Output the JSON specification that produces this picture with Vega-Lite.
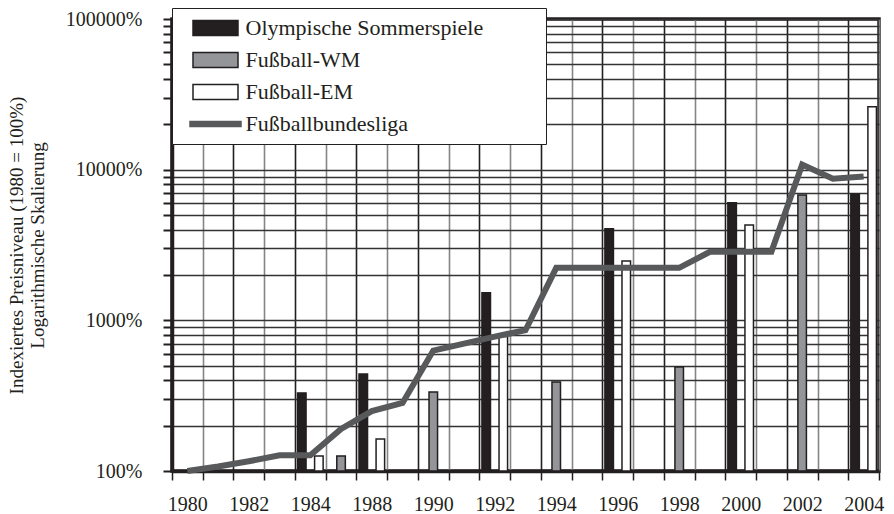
{
  "$schema": "https://vega.github.io/schema/vega-lite/v6.json",
  "width": 707,
  "height": 452,
  "autosize": "none",
  "padding": {"left": 172, "top": 19, "right": 15, "bottom": 43},
  "background": "white",
  "config": {
    "view": {"stroke": "#231f20", "strokeWidth": 3.5},
    "font": "Liberation Serif"
  },
  "data": {
    "values": [
      {"Jahr": "1980", "Serie": "Fußballbundesliga", "Wert": 100},
      {"Jahr": "1981", "Serie": "Fußballbundesliga", "Wert": 107},
      {"Jahr": "1982", "Serie": "Fußballbundesliga", "Wert": 116},
      {"Jahr": "1983", "Serie": "Fußballbundesliga", "Wert": 127},
      {"Jahr": "1984", "Serie": "Fußballbundesliga", "Wert": 127},
      {"Jahr": "1986", "Serie": "Fußballbundesliga", "Wert": 190},
      {"Jahr": "1988", "Serie": "Fußballbundesliga", "Wert": 250},
      {"Jahr": "1989", "Serie": "Fußballbundesliga", "Wert": 283},
      {"Jahr": "1990", "Serie": "Fußballbundesliga", "Wert": 630},
      {"Jahr": "1991", "Serie": "Fußballbundesliga", "Wert": 700},
      {"Jahr": "1992", "Serie": "Fußballbundesliga", "Wert": 780},
      {"Jahr": "1993", "Serie": "Fußballbundesliga", "Wert": 860},
      {"Jahr": "1994", "Serie": "Fußballbundesliga", "Wert": 2230},
      {"Jahr": "1995", "Serie": "Fußballbundesliga", "Wert": 2230},
      {"Jahr": "1996", "Serie": "Fußballbundesliga", "Wert": 2230},
      {"Jahr": "1997", "Serie": "Fußballbundesliga", "Wert": 2230},
      {"Jahr": "1998", "Serie": "Fußballbundesliga", "Wert": 2230},
      {"Jahr": "1999", "Serie": "Fußballbundesliga", "Wert": 2850},
      {"Jahr": "2000", "Serie": "Fußballbundesliga", "Wert": 2850},
      {"Jahr": "2001", "Serie": "Fußballbundesliga", "Wert": 2850},
      {"Jahr": "2002", "Serie": "Fußballbundesliga", "Wert": 10800},
      {"Jahr": "2003", "Serie": "Fußballbundesliga", "Wert": 8700},
      {"Jahr": "2004", "Serie": "Fußballbundesliga", "Wert": 9000},
      {"Jahr": "1984", "Serie": "Olympische Sommerspiele", "Wert": 330},
      {"Jahr": "1988", "Serie": "Olympische Sommerspiele", "Wert": 440},
      {"Jahr": "1992", "Serie": "Olympische Sommerspiele", "Wert": 1525},
      {"Jahr": "1996", "Serie": "Olympische Sommerspiele", "Wert": 4050},
      {"Jahr": "2000", "Serie": "Olympische Sommerspiele", "Wert": 6040},
      {"Jahr": "2004", "Serie": "Olympische Sommerspiele", "Wert": 6900},
      {"Jahr": "1986", "Serie": "Fußball-WM", "Wert": 126},
      {"Jahr": "1990", "Serie": "Fußball-WM", "Wert": 335},
      {"Jahr": "1994", "Serie": "Fußball-WM", "Wert": 390},
      {"Jahr": "1998", "Serie": "Fußball-WM", "Wert": 490},
      {"Jahr": "2002", "Serie": "Fußball-WM", "Wert": 6800},
      {"Jahr": "1984", "Serie": "Fußball-EM", "Wert": 126},
      {"Jahr": "1988", "Serie": "Fußball-EM", "Wert": 163},
      {"Jahr": "1992", "Serie": "Fußball-EM", "Wert": 780},
      {"Jahr": "1996", "Serie": "Fußball-EM", "Wert": 2480},
      {"Jahr": "2000", "Serie": "Fußball-EM", "Wert": 4300},
      {"Jahr": "2004", "Serie": "Fußball-EM", "Wert": 26200}
    ]
  },
  "encoding": {
    "x": {
      "field": "Jahr",
      "type": "ordinal",
      "scale": {
        "domain": ["1980","1981","1982","1983","1984","1986","1988","1989","1990","1991","1992","1993","1994","1995","1996","1997","1998","1999","2000","2001","2002","2003","2004"],
        "paddingInner": 0,
        "paddingOuter": 0
      },
      "axis": {
        "title": null,
        "labelAngle": 0,
        "tickBand": "extent",
        "labelExpr": "indexof(['1980','1982','1984','1988','1990','1992','1994','1996','1998','2000','2002','2004'], datum.value) >= 0 ? datum.value : ''",
        "labelFontSize": 20,
        "labelColor": "#231f20",
        "labelPadding": 14,
        "tickSize": 9,
        "tickWidth": 1.5,
        "tickColor": "#231f20",
        "domainColor": "#231f20",
        "domainWidth": 3.5,
        "grid": true,
        "gridWidth": 1.6,
        "gridColor": {"expr": "indexof(['1981','1983','1986','1989','1991','1993','1995','1997','1999','2001','2003'], datum.value) >= 0 ? '#231f20' : '#858585'"},
        "gridOpacity": 1
      }
    },
    "y": {
      "field": "Wert",
      "type": "quantitative",
      "scale": {"type": "log", "domain": [100, 100000], "nice": false},
      "axis": {
        "title": ["Indexiertes Preisniveau (1980 = 100%)", "Logarithmische Skalierung"],
        "titleFontSize": 19,
        "titleFontWeight": "normal",
        "titleColor": "#231f20",
        "titleLineHeight": 21,
        "titlePadding": 18,
        "values": [100,200,300,400,500,600,700,800,900,1000,2000,3000,4000,5000,6000,7000,8000,9000,10000,20000,30000,40000,50000,60000,70000,80000,90000,100000],
        "labelExpr": "indexof([100,1000,10000,100000], datum.value) >= 0 ? datum.value + '%' : ''",
        "labelFontSize": 20,
        "labelColor": "#231f20",
        "labelPadding": 21,
        "tickSize": 9,
        "tickWidth": 2,
        "tickColor": "#231f20",
        "domainColor": "#231f20",
        "domainWidth": 3.5,
        "grid": true,
        "gridColor": "#333333",
        "gridWidth": 1.6,
        "gridOpacity": 1
      }
    }
  },
  "layer": [
    {
      "transform": [{"filter": "datum.Serie !== 'Fußballbundesliga'"}],
      "mark": {"type": "bar", "stroke": "#231f20", "strokeWidth": 1.5},
      "encoding": {
        "y2": {"datum": 100},
        "xOffset": {
          "field": "Serie",
          "scale": {"domain": ["Olympische Sommerspiele", "Fußball-WM", "Fußball-EM"], "paddingInner": 0, "paddingOuter": 0.3}
        },
        "color": {
          "field": "Serie",
          "type": "nominal",
          "scale": {
            "domain": ["Olympische Sommerspiele", "Fußball-WM", "Fußball-EM", "Fußballbundesliga"],
            "range": ["#231f20", "#939598", "#ffffff", "#58595b"]
          },
          "legend": {
            "title": "\u00a0",
            "titleOrient": "right",
            "titlePadding": 54,
            "titleFontSize": 10,
            "orient": "none",
            "legendX": 0,
            "legendY": -11,
            "fillColor": "white",
            "strokeColor": "#231f20",
            "padding": 9,
            "rowPadding": 10,
            "labelFontSize": 22,
            "labelColor": "#231f20",
            "labelLimit": 500,
            "labelOffset": 19,
            "symbolSize": 225,
            "symbolOffset": 23.5,
            "symbolType": {"expr": "datum.value === 'Fußballbundesliga' ? 'M-3.4,-0.33H3.4V0.33H-3.4Z' : 'M-3,-1H3V1H-3Z'"},
            "symbolStrokeColor": {"expr": "datum.value === 'Fußballbundesliga' ? '#58595b' : '#231f20'"},
            "symbolStrokeWidth": 1.5,
            "symbolOpacity": 1
          }
        }
      }
    },
    {
      "transform": [{"filter": "datum.Serie === 'Fußballbundesliga'"}],
      "mark": {"type": "line", "stroke": "#58595b", "strokeWidth": 6, "strokeJoin": "miter"},
      "encoding": {}
    }
  ]
}
